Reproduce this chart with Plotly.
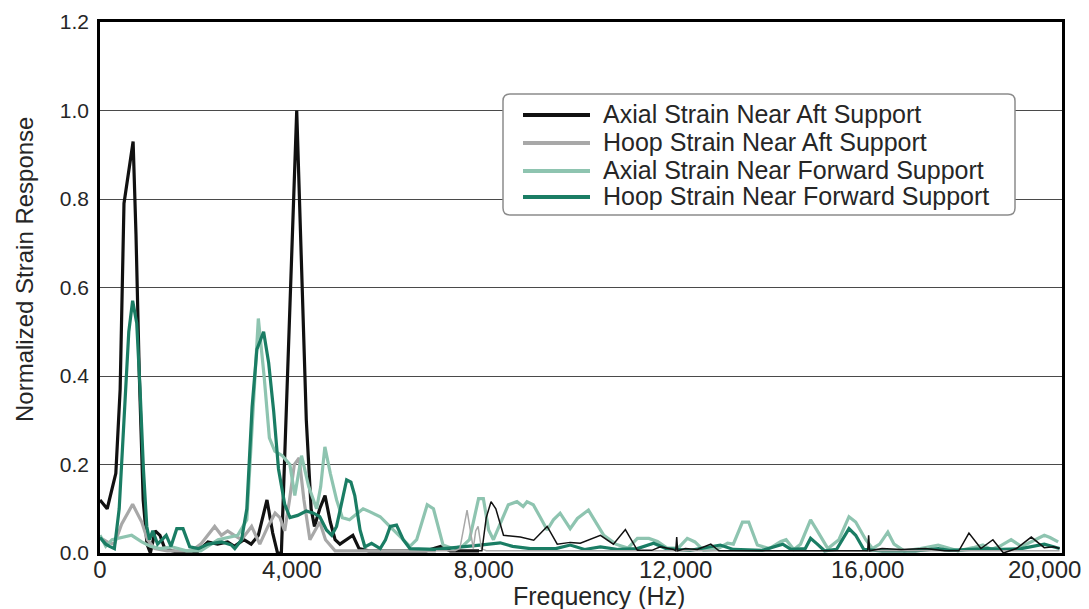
import plotly.graph_objects as go

# ---------------- data (frequency Hz, normalized response) ----------------
axial_aft_low = [(0, .12), (150, .10), (330, .18), (420, .37), (500, .79), (580, .85), (630, .88), (690, .93),
                 (750, .72), (820, .40), (900, .12), (980, .02), (1050, .0), (1150, .05), (1250, .04), (1350, .01),
                 (1500, .005), (1700, 0), (2000, 0), (2250, .025), (2450, .02), (2660, .025), (2800, .015),
                 (3000, .03), (3150, .02), (3300, .04), (3480, .12), (3600, .045), (3700, 0), (3780, 0),
                 (4100, 1.0), (4300, .30), (4400, .10), (4470, .06), (4580, .10), (4690, .13), (4800, .07),
                 (4900, .03), (5000, .02), (5150, .03), (5270, .04), (5400, .01), (5600, .005), (6000, .005),
                 (6400, .005), (6800, .005), (7100, .015), (7300, .005), (7600, .005), (7900, .005)]
axial_aft_high = [(7900, .005), (7960, .005), (8050, .08), (8150, .116), (8250, .10), (8410, .04), (8760, .036),
                  (9040, .029), (9320, .06), (9530, .02), (9800, .024), (10010, .022), (10430, .04), (10700, .02),
                  (10950, .053), (11200, .006), (11500, .006), (11680, .014), (11950, .008), (12000, .005),
                  (12020, .036), (12040, .005), (12200, .01), (12450, .008), (12730, .02), (12900, .005),
                  (13200, .005), (14000, .005), (15000, .005), (16000, .005), (16020, .04), (16040, .005),
                  (16300, .01), (16700, .008), (17200, .01), (17600, .005), (17900, .005), (18110, .045),
                  (18360, .01), (18610, .03), (18830, .0), (19100, .01), (19410, .036), (19680, .012),
                  (19880, .014), (20000, .01)]
hoop_aft_low = [(0, .035), (150, .025), (300, .02), (450, .065), (680, .11), (870, .07), (990, .03), (1140, .01),
                (1400, .005), (1910, .005), (2100, .02), (2240, .04), (2390, .06), (2530, .04), (2660, .05),
                (2800, .04), (2950, .03), (3160, .06), (3330, .02), (3500, .06), (3650, .09), (3750, .08),
                (3850, .05), (3950, .12), (4050, .20), (4150, .215), (4250, .12), (4375, .03), (4580, .07),
                (4700, .03), (4900, .005), (5200, .005), (5600, .005), (6000, .005), (6400, .005), (6800, .005),
                (7000, .005)]
hoop_aft_high = [(7000, .005), (7400, .005), (7500, .01), (7580, .06), (7650, .097), (7720, .05), (7780, .01),
                 (7830, .05), (7880, .06), (7950, .01), (8050, .005), (8200, .005), (9000, .005), (10000, .005),
                 (11000, .005), (12000, .005), (13000, .005), (14000, .005), (15000, .005), (16000, .005),
                 (17000, .005), (18000, .005), (19000, .005), (20000, .005)]
axial_fwd = [(0, .04), (120, .015), (250, .03), (450, .035), (660, .04), (870, .025), (1050, .015), (1250, .01),
             (1500, .014), (1800, .005), (2100, .005), (2460, .03), (2650, .035), (2870, .04), (3060, .075),
             (3180, .30), (3300, .53), (3420, .40), (3530, .26), (3643, .23), (3800, .22), (3957, .20),
             (4060, .13), (4200, .22), (4350, .15), (4514, .10), (4600, .15), (4687, .24), (4800, .18),
             (4931, .12), (5050, .08), (5200, .075), (5484, .10), (5630, .093), (5840, .082), (6040, .06),
             (6250, .037), (6460, .015), (6600, .03), (6820, .109), (6950, .10), (7150, .018), (7350, .01),
             (7550, .015), (7700, .03), (7890, .123), (7990, .123), (8100, .052), (8200, .03), (8340, .067),
             (8510, .109), (8690, .116), (8820, .105), (8900, .116), (9030, .109), (9170, .082), (9320, .052),
             (9450, .075), (9590, .09), (9800, .055), (9950, .078), (10180, .097), (10330, .07), (10500, .04),
             (10750, .02), (11000, .011), (11200, .033), (11440, .033), (11620, .026), (11820, .011),
             (12050, .011), (12240, .033), (12400, .025), (12580, .006), (12850, .008), (13080, .022),
             (13200, .02), (13390, .07), (13520, .07), (13700, .018), (13950, .01), (14190, .026), (14300, .03),
             (14460, .008), (14600, .02), (14810, .075), (14950, .05), (15170, .01), (15400, .03), (15610, .082),
             (15750, .07), (15960, .03), (16100, .01), (16250, .02), (16420, .047), (16550, .02), (16760, .005),
             (17100, .01), (17470, .018), (17650, .012), (17880, .005), (18200, .012), (18400, .018),
             (18570, .008), (18750, .015), (18990, .03), (19200, .015), (19400, .025), (19680, .04),
             (19800, .035), (19970, .025)]
hoop_fwd = [(0, .035), (120, .02), (200, .015), (300, .01), (400, .10), (490, .28), (600, .50), (680, .57),
            (765, .52), (835, .37), (905, .19), (975, .06), (1030, .03), (1100, .05), (1200, .02), (1380, .04),
            (1480, .015), (1600, .055), (1730, .055), (1870, .014), (2050, .01), (2250, .02), (2540, .025),
            (2740, .018), (2810, .01), (2950, .03), (3060, .10), (3170, .33), (3270, .46), (3410, .50),
            (3515, .43), (3620, .32), (3720, .19), (3850, .11), (3960, .08), (4120, .085), (4300, .095),
            (4450, .09), (4580, .082), (4720, .052), (4830, .04), (4930, .06), (5030, .11), (5140, .165),
            (5230, .16), (5310, .13), (5420, .052), (5520, .014), (5660, .022), (5840, .01), (5950, .03),
            (6050, .06), (6180, .063), (6320, .03), (6460, .01), (7000, .008), (7920, .018), (8340, .023),
            (8600, .015), (8970, .01), (9500, .01), (9800, .018), (10100, .008), (10430, .014), (10800, .008),
            (11200, .01), (11540, .022), (11800, .01), (12300, .006), (12930, .018), (13200, .008),
            (13800, .006), (14230, .02), (14400, .008), (14700, .01), (14810, .033), (14950, .02),
            (15100, .005), (15350, .008), (15610, .055), (15750, .04), (15920, .008), (16300, .005),
            (17000, .005), (17470, .01), (17700, .006), (18500, .01), (18800, .008), (19200, .01),
            (19680, .02), (20000, .01)]

series_names = ["Axial Strain Near Aft Support", "Hoop Strain Near Aft Support",
                "Axial Strain Near Forward Support", "Hoop Strain Near Forward Support"]
series_colors = ["#111111", "#a8a8a8", "#8ec4b0", "#1a7d64"]
x_tick_vals = [0, 4000, 8000, 12000, 16000, 20000]
x_tick_text = ["0", "4,000", "8,000", "12,000", "16,000", "20,000"]
y_tick_vals = [0, 0.2, 0.4, 0.6, 0.8, 1.0, 1.2]
y_tick_text = ["0.0", "0.2", "0.4", "0.6", "0.8", "1.0", "1.2"]
x_title = "Frequency (Hz)"
y_title = "Normalized Strain Response"

FONT = "Liberation Sans"
TXT = "#262626"

# plot area in pixels (for converting layout decorations to paper coordinates)
W, H = 1089, 609
L, R, T, B = 100, 27, 22, 56
PW, PH = W - L - R, H - T - B


def px(x):
    return (x - L) / PW


def py(y):
    return (H - B - y) / PH


def xy(pairs):
    return [p[0] for p in pairs], [p[1] for p in pairs]


fig = go.Figure()
main = [axial_aft_low, hoop_aft_low, axial_fwd, hoop_fwd]
for data, name, col in zip(main, series_names, series_colors):
    x, y = xy(data)
    fig.add_trace(go.Scatter(x=x, y=y, mode="lines", name=name, legendgroup=name, showlegend=False,
                             line=dict(color=col, width=3.2)))
for data, idx in [(hoop_aft_high, 1), (axial_aft_high, 0)]:
    x, y = xy(data)
    fig.add_trace(go.Scatter(x=x, y=y, mode="lines", name=series_names[idx], legendgroup=series_names[idx],
                             showlegend=False, line=dict(color=series_colors[idx], width=1.5)))

# ---- legend box (rounded) drawn as layout decoration ----
bx0, bx1, by0, by1, rad = 503, 1015, 94, 215, 7
rx, ry = rad / PW, rad / PH
X0, X1, Y0, Y1 = px(bx0), px(bx1), py(by1), py(by0)
path = (f"M{X0+rx},{Y0} L{X1-rx},{Y0} Q{X1},{Y0} {X1},{Y0+ry} L{X1},{Y1-ry} Q{X1},{Y1} {X1-rx},{Y1} "
        f"L{X0+rx},{Y1} Q{X0},{Y1} {X0},{Y1-ry} L{X0},{Y0+ry} Q{X0},{Y0} {X0+rx},{Y0} Z")
shapes = [dict(type="path", path=path, xref="paper", yref="paper", fillcolor="white",
               line=dict(color="#8c8c8c", width=1.5), layer="above")]
annotations = []
row_y = [115, 143, 171, 197]
for i, (name, col) in enumerate(zip(series_names, series_colors)):
    shapes.append(dict(type="line", xref="paper", yref="paper", x0=px(523), x1=px(590),
                       y0=py(row_y[i]), y1=py(row_y[i]), line=dict(color=col, width=4), layer="above"))
    annotations.append(dict(text=name, xref="paper", yref="paper", x=px(601), y=py(row_y[i] - 1),
                            xanchor="left", yanchor="middle", showarrow=False,
                            font=dict(family=FONT, size=25, color=TXT)))

# last x tick label is nudged left so it stays inside the picture (as in the original)
annotations.append(dict(text=x_tick_text[-1], xref="paper", yref="paper", x=px(1083), y=py(569),
                        xanchor="right", yanchor="middle", showarrow=False,
                        font=dict(family=FONT, size=24, color=TXT)))
annotations.append(dict(text=x_title, xref="paper", yref="paper", x=px(599), y=py(596),
                        xanchor="center", yanchor="middle", showarrow=False,
                        font=dict(family=FONT, size=25, color=TXT)))
annotations.append(dict(text=y_title, xref="paper", yref="paper", x=px(24), y=py(270),
                        xanchor="center", yanchor="middle", showarrow=False, textangle=-90,
                        font=dict(family=FONT, size=24, color=TXT)))

fig.update_layout(
    width=W, height=H,
    margin=dict(l=L, r=R, t=T, b=B, autoexpand=False),
    paper_bgcolor="white", plot_bgcolor="white",
    font=dict(family=FONT, color=TXT),
    showlegend=False,
    shapes=shapes, annotations=annotations,
)
fig.update_xaxes(range=[0, 20050], tickvals=x_tick_vals[:-1], ticktext=x_tick_text[:-1], automargin=False,
                 showgrid=False, zeroline=False, showline=True, mirror=True,
                 linecolor="black", linewidth=2.5, ticks="",
                 tickfont=dict(family=FONT, size=24, color=TXT), ticklabelstandoff=-7)
fig.update_yaxes(range=[0, 1.2], tickvals=y_tick_vals, ticktext=y_tick_text, automargin=False,
                 showgrid=True, gridcolor="#4a4a4a", gridwidth=1.3, zeroline=False,
                 showline=True, mirror=True, linecolor="black", linewidth=2.5, ticks="",
                 tickfont=dict(family=FONT, size=21, color=TXT), ticklabelstandoff=4)

# the page body has a default 8px margin; remove it so the figure fills the window exactly
fig.write_html("out.html", config={"displayModeBar": False},
               post_script="document.body.style.margin='0';document.body.style.padding='0';")
